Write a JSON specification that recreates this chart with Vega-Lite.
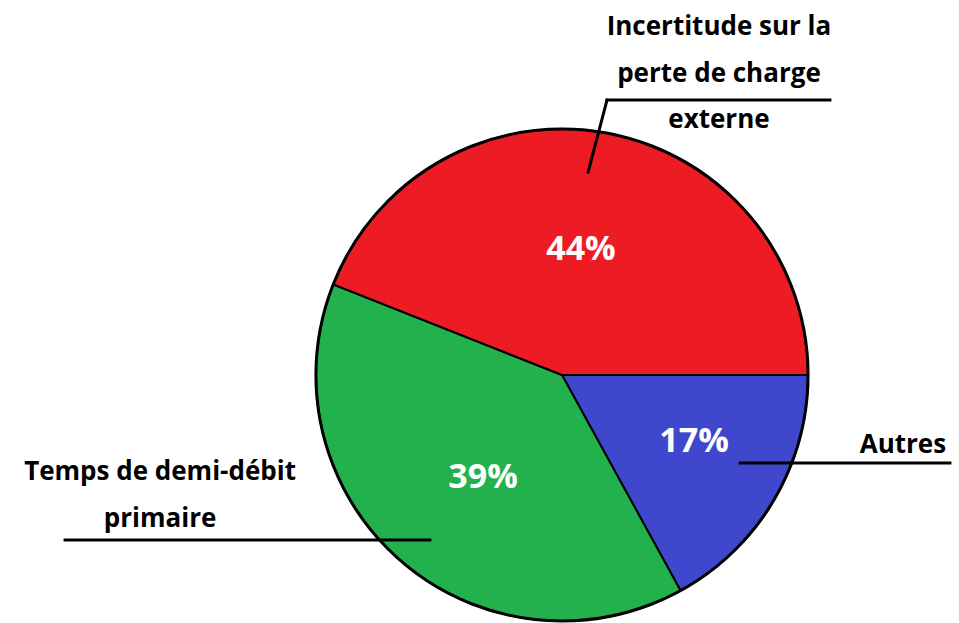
{
  "$schema": "https://vega.github.io/schema/vega-lite/v6.json",
  "width": 492,
  "height": 492,
  "padding": {"left": 316, "top": 129, "right": 151, "bottom": 2},
  "autosize": {"type": "none"},
  "background": "white",
  "config": {"view": {"stroke": null}, "font": "Open Sans"},
  "layer": [
    {
      "data": {"values": [
        {"categorie": "Autres", "valeur": 17, "rang": 1},
        {"categorie": "Temps de demi-débit primaire", "valeur": 39, "rang": 2},
        {"categorie": "Incertitude sur la perte de charge externe", "valeur": 44, "rang": 3}
      ]},
      "mark": {"type": "arc", "outerRadius": 246, "stroke": "black", "strokeWidth": 2},
      "encoding": {
        "theta": {"field": "valeur", "type": "quantitative", "stack": true, "scale": {"range": [1.5708, 7.854]}},
        "order": {"field": "rang", "type": "quantitative"},
        "color": {"field": "categorie", "type": "nominal", "legend": null,
          "scale": {"domain": ["Autres", "Temps de demi-débit primaire", "Incertitude sur la perte de charge externe"],
                    "range": ["#3F48CC", "#22B14C", "#ED1C24"]}}
      }
    },
    {
      "data": {"values": [{"forme": "cercle"}]},
      "mark": {"type": "arc", "theta": 0, "theta2": 6.2832, "outerRadius": 246, "fillOpacity": 0, "stroke": "black", "strokeWidth": 3},
      "encoding": {}
    },
    {
      "data": {"values": [
        {"x": 0.106, "y": 0.825, "x2": 0.183, "y2": 1.118},
        {"x": 0.183, "y": 1.118, "x2": 1.089, "y2": 1.118},
        {"x": -0.537, "y": -0.671, "x2": -2.02, "y2": -0.671},
        {"x": 0.724, "y": -0.358, "x2": 1.577, "y2": -0.358}
      ]},
      "mark": {"type": "rule", "color": "black", "strokeWidth": 3, "strokeCap": "square"},
      "encoding": {
        "x": {"field": "x", "type": "quantitative", "axis": null, "scale": {"domain": [-1, 1], "nice": false, "zero": false}},
        "y": {"field": "y", "type": "quantitative", "axis": null, "scale": {"domain": [-1, 1], "nice": false, "zero": false}},
        "x2": {"field": "x2"},
        "y2": {"field": "y2"}
      }
    },
    {
      "data": {"values": [
        {"texte": "Incertitude sur la\nperte de charge\nexterne", "x": 0.638, "y": 1.413},
        {"texte": "Temps de demi-débit\nprimaire", "x": -1.634, "y": -0.395},
        {"texte": "Autres", "x": 1.386, "y": -0.285}
      ]},
      "mark": {"type": "text", "color": "black", "fontWeight": "bold", "fontSize": 26, "lineBreak": "\n", "lineHeight": 46.5, "align": "center", "baseline": "middle"},
      "encoding": {
        "x": {"field": "x", "type": "quantitative", "axis": null, "scale": {"domain": [-1, 1], "nice": false, "zero": false}},
        "y": {"field": "y", "type": "quantitative", "axis": null, "scale": {"domain": [-1, 1], "nice": false, "zero": false}},
        "text": {"field": "texte"}
      }
    },
    {
      "data": {"values": [
        {"pct": "44%", "x": 0.077, "y": 0.509},
        {"pct": "17%", "x": 0.537, "y": -0.272},
        {"pct": "39%", "x": -0.321, "y": -0.419}
      ]},
      "mark": {"type": "text", "color": "white", "fontWeight": "bold", "fontSize": 34, "align": "center", "baseline": "middle"},
      "encoding": {
        "x": {"field": "x", "type": "quantitative", "axis": null, "scale": {"domain": [-1, 1], "nice": false, "zero": false}},
        "y": {"field": "y", "type": "quantitative", "axis": null, "scale": {"domain": [-1, 1], "nice": false, "zero": false}},
        "text": {"field": "pct"}
      }
    }
  ]
}
